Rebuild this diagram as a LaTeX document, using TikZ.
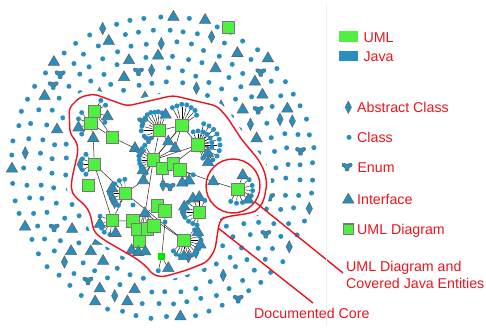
\documentclass[tikz,border=0pt]{standalone}
\usepackage{fontspec}
\setmainfont{Liberation Sans}
\usetikzlibrary{shapes.geometric,calc}
\definecolor{jblue}{RGB}{40,142,190}
\definecolor{ugreen}{RGB}{80,240,64}
\definecolor{ugray}{RGB}{120,120,120}
\definecolor{tgray}{RGB}{100,100,100}
\definecolor{lred}{RGB}{235,20,30}
\pgfdeclarelayer{outer}\pgfdeclarelayer{mask}\pgfdeclarelayer{edges}
\pgfsetlayers{outer,mask,edges,main}
\tikzset{
 cls/.style={circle,fill=jblue,inner sep=0pt,minimum size=5pt},
 itf/.style={regular polygon,regular polygon sides=3,fill=jblue,draw=tgray,line width=0.6pt,inner sep=0pt,minimum size=13pt},
 absc/.style={diamond,fill=jblue,draw=tgray,line width=0.5pt,inner sep=0pt,minimum width=6.5pt,minimum height=12.5pt},
 enm/.style={rectangle,inner sep=0pt,minimum width=12pt,minimum height=10pt,path picture={
   \begin{scope}[shift={(path picture bounding box.center)},x=1pt,y=1pt]
   \filldraw[fill=jblue,draw=tgray,line width=0.5pt,rounded corners=0.8pt] (-5,3.6)--(-1.8,3.6)--(0,2.4)--(1.8,3.6)--(5,3.6)--(5,0.8)--(1.9,-0.6)--(1.9,-4)--(-1.9,-4)--(-1.9,-0.6)--(-5,0.8)--cycle;
   \end{scope}}},
 uml/.style={rectangle,fill=ugreen,draw=ugray,line width=0.9pt,inner sep=0pt,minimum size=12.5pt},
 spoke/.style={black,line width=0.4pt},
 edge/.style={black!85,line width=0.5pt},
 lbl/.style={text=lred,anchor=base west,inner sep=0pt,font=\fontsize{14.2}{17}\selectfont},
 redline/.style={lred,line width=1.4pt},
}
\newcommand\myfan[2]{%
  \foreach \ang/\rad/\typ [count=\n] in {#2}{%
    \node[\typ] (#1-\n) at ($(#1)+(\ang:\rad)$) {};%
    \begin{pgfonlayer}{edges}\draw[spoke] (#1) -- (#1-\n);\end{pgfonlayer}%
  }}
\begin{document}
\begin{tikzpicture}[x=1pt,y=-1pt]
\useasboundingbox (0,0) rectangle (486,328);
% ---------- outer scattered entities, on concentric rings ----------
\begin{pgfonlayer}{outer}
\fill[white] (0,0) rectangle (486,328);
\pgfmathsetseed{5}
\foreach \k in {0,...,8}{
  \pgfmathsetmacro\R{151-13.2*\k}
  \pgfmathtruncatemacro\N{2*pi*\R/14.8}
  \pgfmathsetmacro\off{360*rnd}
  \foreach \m in {1,...,\N}{
    \pgfmathsetmacro\th{\off+\m/\N*360}
    \pgfmathsetmacro\px{163+\R*cos(\th)+1.6*rand}
    \pgfmathsetmacro\py{167+\R*sin(\th)+1.6*rand}
    \pgfmathsetmacro\kk{rnd}
    \ifdim\kk pt<0.13pt\node[itf] (o-\k-\m) at (\px,\py) {};%
    \else\ifdim\kk pt<0.185pt\node[absc] (o-\k-\m) at (\px,\py) {};%
    \else\ifdim\kk pt<0.24pt\node[enm] (o-\k-\m) at (\px,\py) {};%
    \else\node[cls] (o-\k-\m) at (\px,\py) {};%
    \fi\fi\fi
  }
}
\end{pgfonlayer}
\begin{pgfonlayer}{mask}
\filldraw[white,line width=9pt,rounded corners=5pt,line join=round]
 (80,97)--(94,94)--(127,106)--(173,95.5)--(217,106)--(227,117)--(242,140)--(258,159)--(264,170)--(267,183)--(264,200)--(258,210)--(251,213)--(225,217)--(220,220)--(218,230)--(215,250)--(207,262)--(187,270)--(163,277)--(153,275)--(147,267)--(137,259)--(104,240)--(94,232)--(90,213)--(85,205)--(75,197)--(71,190)--(72,178)--(78,152)--(77,142)--(70,134)--(69,108)--cycle;
\end{pgfonlayer}
% ---------- core: UML diagrams ----------
\node[uml] (S1) at (94.3,111.7) {};
\node[uml] (S2) at (90.7,123.3) {};
\node[uml] (S3) at (112.3,137.3) {};
\node[uml] (S4) at (94.3,164.3) {};
\node[uml] (S5) at (88.3,185.7) {};
\node[uml] (S6) at (125.3,193.3) {};
\node[uml] (S7) at (112.3,220.7) {};
\node[uml] (S8) at (159.3,130.7) {};
\node[uml] (S9) at (181.7,125.3) {};
\node[uml] (S10) at (198,145) {};
\node[uml] (S11) at (153.3,160) {};
\node[uml] (S12) at (162.3,168.3) {};
\node[uml] (S13) at (173.3,164) {};
\node[uml] (S14) at (180,170) {};
\node[uml] (S15) at (157.3,206) {};
\node[uml] (S16) at (164.7,211) {};
\node[uml] (S17) at (133,221) {};
\node[uml] (S18) at (137.3,229.3) {};
\node[uml] (S19) at (147.3,228.7) {};
\node[uml] (S20) at (153.7,226) {};
\node[uml] (S21) at (139.3,241.3) {};
\node[uml] (S22) at (184,240.3) {};
\node[uml] (S23) at (199.3,212.3) {};
\node[uml] (S24) at (237.7,189.3) {};
\node[rectangle,fill=green!90!black,inner sep=0pt,minimum size=7pt] (S25) at (161.7,256.7) {};
\node[uml] (S26) at (228.3,27.3) {};
% core interfaces and free entities
\node[itf] (T1) at (135,148.3) {};
\node[itf] (T2) at (145,213.3) {};
\node[itf] (T3) at (213.3,181.7) {};
\node[itf] (T4) at (143.3,180.5) {};
\node[itf] (T5) at (93.3,138.3) {};
\node[itf] (T6) at (168.3,141.7) {};
\node[itf] (T7) at (175,148.3) {};
\node[cls] (D1) at (165,222) {};
\node[enm] (F1) at (170,187) {};
\node[cls] (F2) at (158.3,270.7) {};
\node[itf] (F3) at (168.3,268.3) {};
\node[cls] (F4) at (186,184) {};
\node[cls] (F5) at (133,205) {};
\node[absc] (F6) at (163,185) {};
% ---------- edges ----------
\begin{pgfonlayer}{edges}
\foreach \u/\v in {S1/S3,S2/S3,S2/T5,T5/S4,S3/T1,T1/S11,S4/S6,S4/S7,S6/S7,S6/T4,T4/S11,S6/S22,
  S11/S8,S11/S9,S11/T6,T6/S9,S11/T7,T7/S9,S8/S9,S9/S10,S11/S10,S10/S13,S12/S13,S13/S14,S11/S12,
  S14/T3,T3/S24,S11/T2,T2/S17,T2/S18,T2/S19,T2/S20,T2/S21,T2/S22,T2/S15,S15/S16,S16/D1,D1/S25,
  S25/F2,S25/F3,S7/S17,S12/F6,S8/T6}
  {\draw[edge] (\u) -- (\v);}
\end{pgfonlayer}
% ---------- spoke fans ----------
\myfan{S8}{140/14/enm,160/16/cls,180/18/cls,195/18/cls,209/19/enm,222/19/cls,233/20/cls,245/20/cls,256/19/cls,267/19/cls,279/18/cls,292/17/itf}
\myfan{S9}{242/20/cls,256/20/cls,270/21/cls,284/21/cls,298/20/cls,312/20/cls,326/18/cls}
\myfan{S10}{250/14/cls,270/14/cls,290/14/cls,310/14/cls,330/14/cls,350/14/cls,10/14/cls,40/13/itf,70/14/cls,
  285/22/cls,300/22/cls,315/22/cls,330/22/cls,345/22/cls,0/22/cls,15/22/cls,30/22/cls,45/21/cls,60/20/itf}
\myfan{S11}{120/15/cls,135/15/itf,150/14/cls,165/14/cls,180/14/cls,195/15/cls,210/15/enm,225/16/cls,240/17/cls}
\myfan{S22}{315/15/cls,330/16/itf,345/16/cls,0/17/cls,15/17/itf,30/17/cls,45/17/absc,60/17/cls,75/17/absc,90/16/itf,105/16/cls,120/16/cls,135/15/cls}
\myfan{S23}{100/13/cls,120/13/cls,140/14/cls,160/15/cls,180/16/absc,200/16/itf,222/15/cls,245/15/itf,270/15/itf,295/13/cls}
\myfan{S24}{290/15/itf,320/15/cls,345/15/cls,5/15/cls,25/15/cls,45/15/itf,70/14/cls,95/14/cls,120/14/cls}
\myfan{S6}{120/14/cls,140/14/absc,160/14/absc,180/15/absc,200/14/itf,222/14/cls,245/14/cls,268/14/cls}
\myfan{S7}{200/13/cls,165/13/itf,145/13/cls,125/14/cls,100/14/cls,75/13/itf}
\myfan{S4}{130/13/cls,155/13/cls,180/14/absc,205/13/cls,230/13/cls}
\myfan{S2}{130/14/cls,160/13/itf,200/13/cls,230/14/cls}
\myfan{S1}{300/13/cls,330/13/cls,20/14/itf,45/15/cls}
\myfan{S21}{130/12/itf,95/11/itf,60/12/itf}
\myfan{S14}{20/14/cls,50/14/itf,80/13/itf}
% ---------- red outlines ----------
\draw[redline,rounded corners=5pt,line join=round]
 (80,97)--(94,94)--(127,106)--(173,95.5)--(217,106)--(227,117)--(242,140)--(258,159)--(264,170)--(267,183)--(264,200)--(258,210)--(251,213)--(225,217)--(220,220)--(218,230)--(215,250)--(207,262)--(187,270)--(163,277)--(153,275)--(147,267)--(137,259)--(104,240)--(94,232)--(90,213)--(85,205)--(75,197)--(71,190)--(72,178)--(78,152)--(77,142)--(70,134)--(69,108)--cycle;
\node[circle,draw=lred,line width=1.4pt,minimum size=54pt,inner sep=0pt] (cov) at (233,186) {};
\coordinate (c1) at (343,273);
\coordinate (b2) at (218,228);
\coordinate (c2) at (313,303);
\draw[redline] (cov.-36) -- (c1);
\draw[redline] (b2) -- (c2);
% ---------- legend ----------
\draw[gray!12,line width=0.8pt] (326,4) -- (326,326);
\node[fill=ugreen,inner sep=0pt,minimum width=19pt,minimum height=10.5pt] (lgUML) at (348.3,36.3) {};
\node[lbl] (ltUML) at (363.3,42.4) {UML};
\node[fill=jblue,inner sep=0pt,minimum width=19pt,minimum height=10.5pt] (lgJava) at (348.3,55.8) {};
\node[lbl] (ltJava) at (363.3,61.1) {Java};
\node[absc] (lgAbs) at (348.3,107.3) {};
\node[lbl] (ltAbs) at (357,112.4) {Abstract Class};
\node[cls] (lgCls) at (349,137.3) {};
\node[lbl] (ltCls) at (357,142.4) {Class};
\node[enm] (lgEnum) at (347,167) {};
\node[lbl] (ltEnum) at (357.3,172.1) {Enum};
\node[itf] (lgInt) at (348.3,199.8) {};
\node[lbl] (ltInt) at (357,204.4) {Interface};
\node[uml,minimum size=10.5pt,line width=1.1pt] (lgUD) at (348.3,229.3) {};
\node[lbl] (ltUD) at (357,234.4) {UML Diagram};
\node[lbl] (tCov1) at (346,271.8) {UML Diagram and};
\node[lbl] (tCov2) at (346,288.4) {Covered Java Entities};
\node[lbl] (tCore) at (254,318.4) {Documented Core};
\end{tikzpicture}
\end{document}
